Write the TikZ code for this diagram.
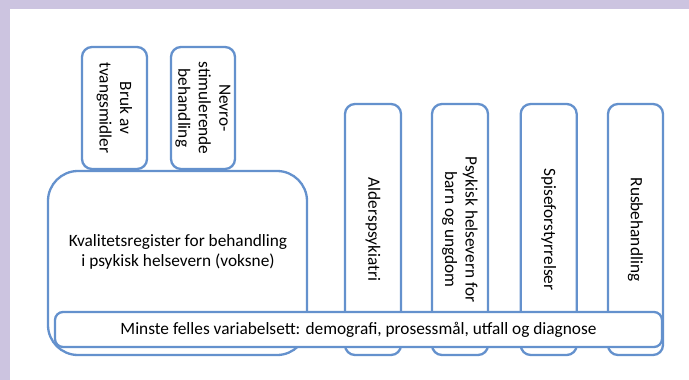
\documentclass[tikz,border=0pt]{standalone}
\usepackage{fontspec}
\setmainfont{Carlito}
\definecolor{lav}{RGB}{204,196,224}
\definecolor{boxblue}{RGB}{100,145,205}
\begin{document}
\begin{tikzpicture}[x=1pt,y=-1pt,
  box/.style={draw=boxblue,line width=2.3pt,fill=white,rounded corners=10pt,inner sep=0pt,
    font=\fontsize{17.3}{20.5}\selectfont,align=center},
  vbox/.style={box,rotate=-90},
  txt/.style={inner sep=0pt,font=\fontsize{17.3}{20.5}\selectfont,align=center}]
\useasboundingbox (0,0) rectangle (689,380);
\fill[lav] (0,0) rectangle (689,380);
\fill[white] (10,9) rectangle (689,380);
% main box
\node[box,rounded corners=30pt,minimum width=259pt,minimum height=184pt] (main) at (177.5,263) {};
\node[txt] (maintxt) at (178,252) {Kvalitetsregister for behandling\\i psykisk helsevern (voksne)};
% vertical boxes
\node[vbox,minimum width=251pt,minimum height=56pt] (alders) at (373,229.5) {Alderspsykiatri};
\node[vbox,minimum width=251pt,minimum height=56pt] (barn) at (460,229.5) {Psykisk helsevern for\\barn og ungdom};
\node[vbox,minimum width=251pt,minimum height=56pt] (spise) at (548.7,229.5) {Spiseforstyrrelser};
\node[vbox,minimum width=251pt,minimum height=55pt] (rus) at (635.5,229.5) {Rusbehandling};
% top boxes
\node[vbox,minimum width=122pt,minimum height=65pt] (bruk) at (114.5,108) {Bruk av\\tvangsmidler};
\node[vbox,minimum width=122pt,minimum height=64pt] (nevro) at (203,108) {Nevro-\\stimulerende\\behandling};
% bottom bar
\node[box,rounded corners=8pt,minimum width=607pt,minimum height=35pt] (bar) at (358.5,329.5)
  {Minste felles variabelsett: demografi, prosessmål, utfall og diagnose};
\end{tikzpicture}
\end{document}
